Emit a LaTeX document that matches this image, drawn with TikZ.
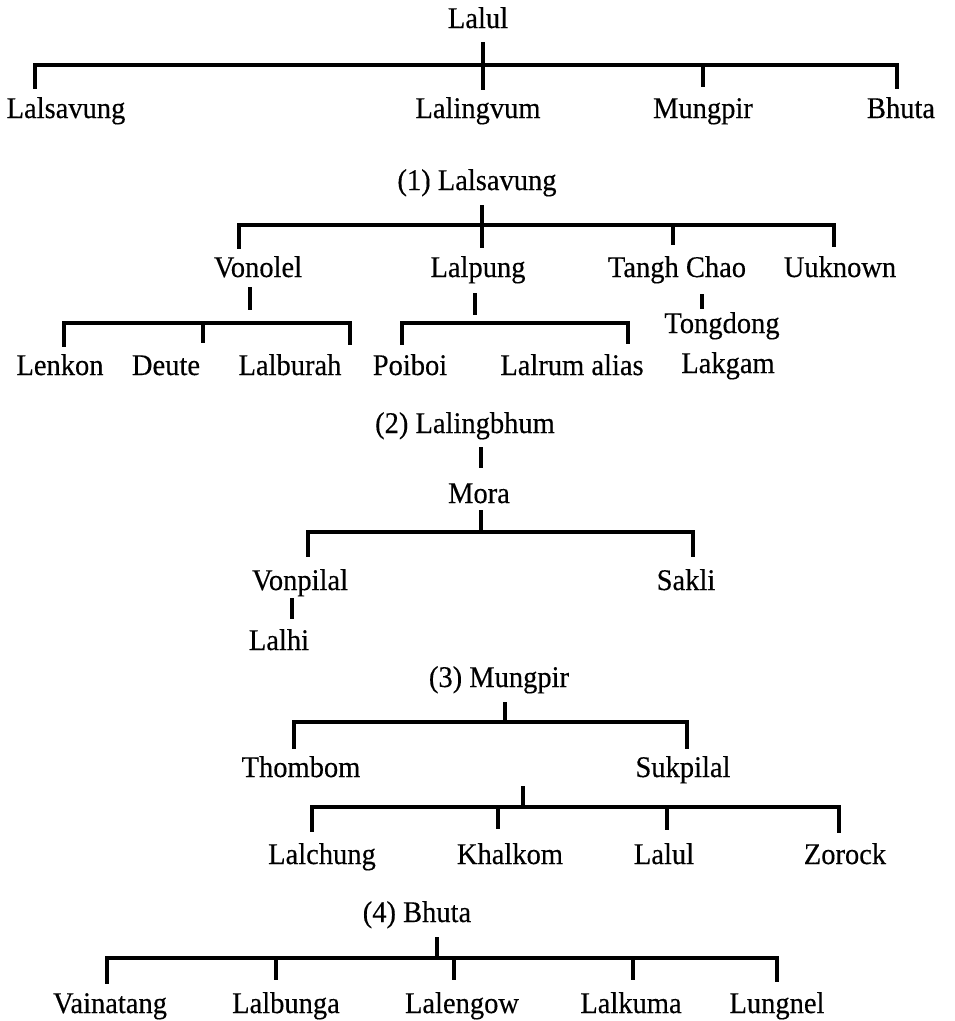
\documentclass[tikz,border=0pt]{standalone}
\usepackage{fontspec}
\setmainfont[FakeStretch=0.95,FakeBold=0.3]{Liberation Serif}
\begin{document}
\begin{tikzpicture}[x=1pt,y=-1pt,
  lbl/.style={inner sep=0pt, anchor=base, font=\fontsize{30}{33}\selectfont},
  bar/.style={line width=3.2pt, line join=miter, line cap=rect},
  stem/.style={line width=3.2pt}]
\useasboundingbox[fill=white] (0,0) rectangle (955,1021);

% ---------- Top: Lalul ----------
\node[lbl] (lalul) at (478,28) {Lalul};
\node[lbl] (lalsavung) at (66,118) {Lalsavung};
\node[lbl] (lalingvum) at (478,118) {Lalingvum};
\node[lbl] (mungpir) at (703,118) {Mungpir};
\node[lbl] (bhuta) at (901,118) {Bhuta};
\coordinate (t0) at (483,42);  \coordinate (t1) at (483,90);
\coordinate (tL) at (35,65);   \coordinate (tR) at (897,65);
\coordinate (tM) at (703,65);
\draw[stem] (t0) -- (t1);
\draw[bar] (tL) ++(0,22) -- (tL) -- (tR) -- ++(0,22);
\draw[stem] (tM) -- ++(0,22);

% ---------- (1) Lalsavung ----------
\node[lbl] (s1) at (477,190) {(1) Lalsavung};
\node[lbl] (vonolel) at (258,277) {Vonolel};
\node[lbl] (lalpung) at (478,277) {Lalpung};
\node[lbl] (tangh) at (677,277) {Tangh Chao};
\node[lbl] (uuknown) at (840,277) {Uuknown};
\node[lbl] (tongdong) at (722,333) {Tongdong};
\node[lbl] (lakgam) at (728,373) {Lakgam};
\node[lbl] (lenkon) at (60,375) {Lenkon};
\node[lbl] (deute) at (166,375) {Deute};
\node[lbl] (lalburah) at (290,375) {Lalburah};
\node[lbl] (poiboi) at (410,375) {Poiboi};
\node[lbl] (lalrum) at (572,375) {Lalrum alias};

\coordinate (u0) at (482,205); \coordinate (u1) at (482,248);
\coordinate (uL) at (239,225); \coordinate (uR) at (834,225);
\coordinate (uT) at (673,225);
\draw[stem] (u0) -- (u1);
\draw[bar] (uL) ++(0,22) -- (uL) -- (uR) -- ++(0,20);
\draw[stem] (uT) -- ++(0,20);

% Vonolel's children
\coordinate (v0) at (250,287); \coordinate (v1) at (250,310);
\coordinate (vL) at (64,323);  \coordinate (vR) at (350,323);
\coordinate (vM) at (203,323);
\draw[stem] (v0) -- (v1);
\draw[bar] (vL) ++(0,22) -- (vL) -- (vR) -- ++(0,20);
\draw[stem] (vM) -- ++(0,20);

% Lalpung's children
\coordinate (p0) at (475,293); \coordinate (p1) at (475,315);
\coordinate (pL) at (402,323); \coordinate (pR) at (628,323);
\draw[stem] (p0) -- (p1);
\draw[bar] (pL) ++(0,20) -- (pL) -- (pR) -- ++(0,19);

% Tangh Chao -> Tongdong
\coordinate (c0) at (702,294); \coordinate (c1) at (702,309);
\draw[stem] (c0) -- (c1);

% ---------- (2) Lalingbhum ----------
\node[lbl] (s2) at (465,433) {(2) Lalingbhum};
\node[lbl] (mora) at (479,503) {Mora};
\node[lbl] (vonpilal) at (300,590) {Vonpilal};
\node[lbl] (sakli) at (686,590) {Sakli};
\node[lbl] (lalhi) at (279,650) {Lalhi};
\coordinate (m0) at (481,447); \coordinate (m1) at (481,468);
\draw[stem] (m0) -- (m1);
\coordinate (n0) at (481,510); \coordinate (n1) at (481,532);
\coordinate (nL) at (308,532); \coordinate (nR) at (693,532);
\draw[stem] (n0) -- (n1);
\draw[bar] (nL) ++(0,23) -- (nL) -- (nR) -- ++(0,23);
\coordinate (w0) at (292,598); \coordinate (w1) at (292,619);
\draw[stem] (w0) -- (w1);

% ---------- (3) Mungpir ----------
\node[lbl] (s3) at (499,687) {(3) Mungpir};
\node[lbl] (thombom) at (301,777) {Thombom};
\node[lbl] (sukpilal) at (683,777) {Sukpilal};
\node[lbl] (lalchung) at (322,864) {Lalchung};
\node[lbl] (khalkom) at (510,864) {Khalkom};
\node[lbl] (lalul2) at (664,864) {Lalul};
\node[lbl] (zorock) at (845,864) {Zorock};
\coordinate (g0) at (505,702); \coordinate (g1) at (505,722);
\coordinate (gL) at (294,722); \coordinate (gR) at (687,722);
\draw[stem] (g0) -- (g1);
\draw[bar] (gL) ++(0,25) -- (gL) -- (gR) -- ++(0,25);
\coordinate (k0) at (523,786); \coordinate (k1) at (523,807);
\coordinate (kL) at (312,807); \coordinate (kR) at (839,807);
\coordinate (kA) at (498,807); \coordinate (kB) at (667,807);
\draw[stem] (k0) -- (k1);
\draw[bar] (kL) ++(0,23) -- (kL) -- (kR) -- ++(0,24);
\draw[stem] (kA) -- ++(0,22);
\draw[stem] (kB) -- ++(0,23);

% ---------- (4) Bhuta ----------
\node[lbl] (s4) at (417,922) {(4) Bhuta};
\node[lbl] (vainatang) at (110,1013) {Vainatang};
\node[lbl] (lalbunga) at (286,1013) {Lalbunga};
\node[lbl] (lalengow) at (462,1013) {Lalengow};
\node[lbl] (lalkuma) at (631,1013) {Lalkuma};
\node[lbl] (lungnel) at (777,1013) {Lungnel};
\coordinate (h0) at (437,937); \coordinate (h1) at (437,958);
\coordinate (hL) at (107,958); \coordinate (hR) at (777,958);
\coordinate (hA) at (276,958); \coordinate (hB) at (454,958); \coordinate (hC) at (633,958);
\draw[stem] (h0) -- (h1);
\draw[bar] (hL) ++(0,24) -- (hL) -- (hR) -- ++(0,22);
\draw[stem] (hA) -- ++(0,22);
\draw[stem] (hB) -- ++(0,22);
\draw[stem] (hC) -- ++(0,22);
\end{tikzpicture}
\end{document}
